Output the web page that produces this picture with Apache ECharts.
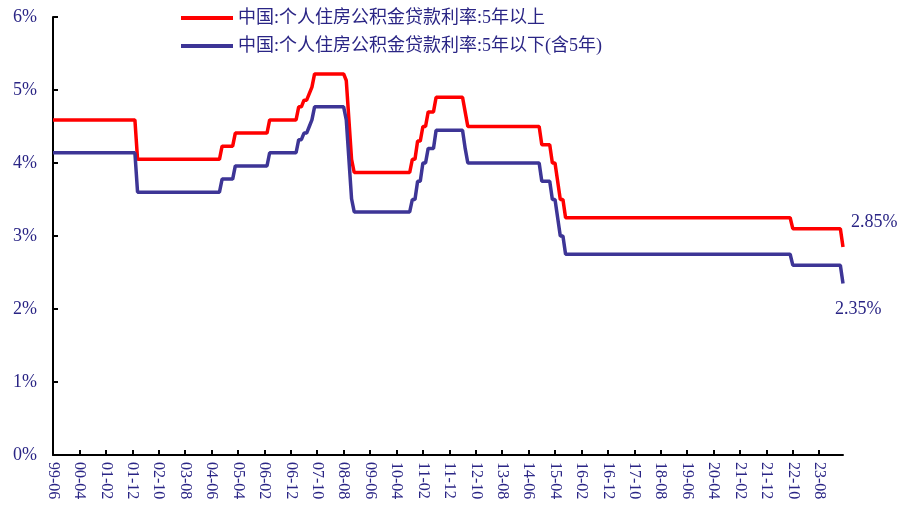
<!DOCTYPE html>
<html>
<head>
<meta charset="utf-8">
<script src="https://cdn.jsdelivr.net/npm/echarts@6/dist/echarts.min.js"></script>
<style>
  html, body { margin: 0; padding: 0; background: #fff; }
  #rate_line { width: 898px; height: 517px; }
</style>
</head>
<body>
<div id="rate_line"></div>
<script>
  // months where the rate changed, and the rate from that month on (%)
  const changeMonths = ['1999-06', '2002-02', '2004-10', '2005-03', '2006-04', '2007-03', '2007-05', '2007-07',
    '2007-08', '2007-09', '2008-09', '2008-10', '2008-11', '2008-12', '2010-10', '2010-12', '2011-02',
    '2011-04', '2011-07', '2012-06', '2012-07', '2014-11', '2015-03', '2015-05', '2015-06', '2015-08',
    '2022-10', '2024-05'];
  const rateAbove5 = [4.59, 4.05, 4.23, 4.41, 4.59, 4.77, 4.86, 4.95, 5.04, 5.22, 5.13, 4.59, 4.05, 3.87,
    4.05, 4.30, 4.50, 4.70, 4.90, 4.70, 4.50, 4.25, 4.00, 3.75, 3.50, 3.25, 3.10, 2.85];
  const rateBelow5 = [4.14, 3.60, 3.78, 3.96, 4.14, 4.32, 4.41, 4.50, 4.59, 4.77, 4.59, 4.05, 3.51, 3.33,
    3.50, 3.75, 4.00, 4.20, 4.45, 4.20, 4.00, 3.75, 3.50, 3.25, 3.00, 2.75, 2.60, 2.35];
  const firstMonth = '1999-06';
  const lastMonth = '2024-05';
  const yTicks = [0, 1, 2, 3, 4, 5, 6];

  const nameAbove = '中国:个人住房公积金贷款利率:5年以上';
  const nameBelow = '中国:个人住房公积金贷款利率:5年以下(含5年)';

  // monthly axis, labels like 99-06
  let months = [];
  let [y, m] = firstMonth.split('-').map(Number);
  while (true) {
    let key = y + '-' + String(m).padStart(2, '0');
    months.push(key);
    if (key === lastMonth) break;
    m++;
    if (m > 12) { m = 1; y++; }
  }

  // the published rate holds until the next change
  function monthly(values) {
    let out = [];
    let k = 0;
    months.forEach(mo => {
      while (k + 1 < changeMonths.length && changeMonths[k + 1] <= mo) k++;
      out.push(values[k]);
    });
    return out;
  }

  const serif = '"Liberation Serif", "Times New Roman", "Noto Sans CJK SC", serif';
  const navy = '#2a2585';

  let chart = echarts.init(document.getElementById('rate_line'));
  let option = {
    animation: false,
    grid: { left: 53, right: 55, top: 17, bottom: 62 },
    legend: {
      orient: 'vertical',
      left: 176,
      top: 4,
      itemWidth: 52,
      itemHeight: 4,
      itemGap: 10,
      icon: 'rect',
      textStyle: { fontSize: 18, color: navy, fontFamily: serif },
      data: [nameAbove, nameBelow]
    },
    xAxis: {
      type: 'category',
      data: months,
      boundaryGap: false,
      axisLine: { lineStyle: { color: '#000', width: 2 } },
      axisTick: { inside: true, length: 5, interval: 9, lineStyle: { color: '#000', width: 2 } },
      axisLabel: {
        interval: 9,
        rotate: -90,
        margin: 7,
        color: navy,
        fontSize: 16,
        fontFamily: serif,
        formatter: v => v.slice(2)
      },
      splitLine: { show: false }
    },
    yAxis: {
      type: 'value',
      min: yTicks[0],
      max: yTicks[yTicks.length - 1],
      interval: 1,
      axisLine: { show: true, lineStyle: { color: '#000', width: 2 } },
      axisTick: { show: true, inside: true, length: 5, lineStyle: { color: '#000', width: 2 } },
      axisLabel: { color: navy, fontSize: 18, fontFamily: serif, margin: 16, formatter: '{value}%' },
      splitLine: { show: false }
    },
    series: [
      {
        name: nameAbove,
        type: 'line',
        symbol: 'none',
        itemStyle: { color: '#ff0000' },
        lineStyle: { color: '#ff0000', width: 3.5 },
        endLabel: {
          show: true, distance: 0, offset: [8, -25],
          formatter: p => p.value.toFixed(2) + '%',
          color: navy, fontSize: 18, fontFamily: serif
        },
        data: monthly(rateAbove5)
      },
      {
        name: nameBelow,
        type: 'line',
        symbol: 'none',
        itemStyle: { color: '#3d3596' },
        lineStyle: { color: '#3d3596', width: 3.5 },
        endLabel: {
          show: true, distance: 0, offset: [-8, 26],
          formatter: p => p.value.toFixed(2) + '%',
          color: navy, fontSize: 18, fontFamily: serif
        },
        data: monthly(rateBelow5)
      }
    ]
  };
  chart.setOption(option);
</script>
</body>
</html>
